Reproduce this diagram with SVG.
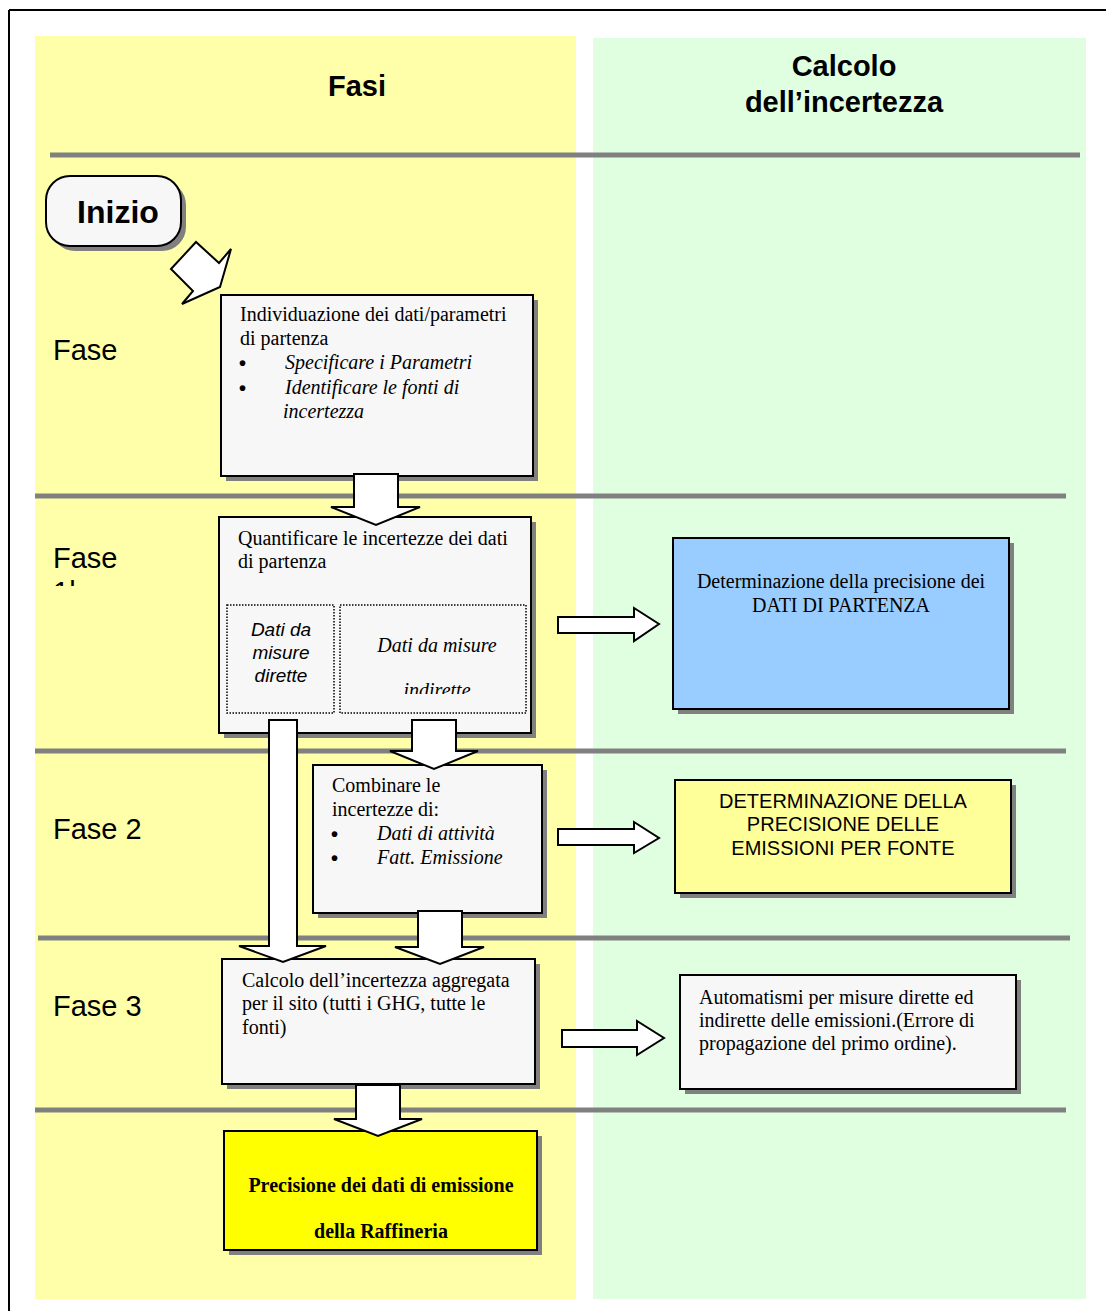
<svg xmlns="http://www.w3.org/2000/svg" width="1106" height="1311" viewBox="0 0 1106 1311">
<defs>
<style>
.box{fill:#f7f7f7;stroke:#000;stroke-width:2}
.sh{fill:#808080}
.arr{fill:#fff;stroke:#000;stroke-width:2;stroke-linejoin:miter}
.sep{stroke:#808080;stroke-width:5}
.ser{font-family:"Liberation Serif","Times New Roman",serif;font-size:20px;fill:#000}
.it{font-style:italic}
.bul{font-family:"Liberation Sans",Arial,sans-serif;font-size:20px;font-weight:bold;fill:#000}
.sans{font-family:"Liberation Sans",Arial,sans-serif;fill:#000}
.title{font-family:"Liberation Sans",Arial,sans-serif;font-weight:bold;font-size:29px;fill:#000}
.fase{font-family:"Liberation Sans",Arial,sans-serif;font-size:29px;fill:#000}
.dot{fill:none;stroke:#000;stroke-width:1.5;stroke-dasharray:1.5 1.5}
</style>
<clipPath id="clip1b"><rect x="40" y="576" width="100" height="10"/></clipPath>
<clipPath id="clipInd"><rect x="341" y="606" width="184" height="88"/></clipPath>
</defs>

<rect x="0" y="0" width="1106" height="1311" fill="#fff"/>
<path d="M9,10 H1106 M9,10 V1311" stroke="#000" stroke-width="2" fill="none"/>

<rect x="35" y="36" width="541" height="1263" fill="#ffffaa"/>
<rect x="593" y="38" width="493" height="1261" fill="#e0ffe0"/>

<g id="separators">
<line class="sep" x1="50" y1="155" x2="1080" y2="155"/>
<line class="sep" x1="35" y1="496" x2="1066" y2="496"/>
<line class="sep" x1="35" y1="751" x2="1066" y2="751"/>
<line class="sep" x1="38" y1="938" x2="1070" y2="938"/>
<line class="sep" x1="35" y1="1110" x2="1066" y2="1110"/>
</g>

<g id="headers">
<text class="title" x="357" y="96" text-anchor="middle">Fasi</text>
<text class="title" x="844" y="76" text-anchor="middle">Calcolo</text>
<text class="title" x="844" y="112" text-anchor="middle">dell’incertezza</text>
</g>

<g id="phase-labels">
<text class="fase" x="53" y="360">Fase</text>
<text class="fase" x="53" y="568">Fase</text>
<text class="fase" x="53" y="602" clip-path="url(#clip1b)">1b</text>
<text class="fase" x="53" y="839">Fase 2</text>
<text class="fase" x="53" y="1016">Fase 3</text>
</g>

<g id="inizio">
<rect class="sh" x="51" y="181" width="135" height="70" rx="24"/>
<rect class="box" x="46" y="176" width="135" height="70" rx="24"/>
<text class="sans" x="118" y="223" text-anchor="middle" font-size="32" font-weight="bold">Inizio</text>
</g>

<g id="box1">
<rect class="sh" x="226" y="300" width="312" height="181"/>
<rect class="box" x="221" y="295" width="312" height="181"/>
<text class="ser" x="240" y="321">Individuazione dei dati/parametri</text>
<text class="ser" x="240" y="345">di partenza</text>
<text class="bul" x="239" y="370">•</text>
<text class="ser it" x="285" y="369">Specificare i Parametri</text>
<text class="bul" x="239" y="395">•</text>
<text class="ser it" x="285" y="394">Identificare le fonti di</text>
<text class="ser it" x="283" y="418">incertezza</text>
</g>

<g id="box2">
<rect class="sh" x="224" y="522" width="312" height="216"/>
<rect class="box" x="219" y="517" width="312" height="216"/>
<text class="ser" x="238" y="545">Quantificare le incertezze dei dati</text>
<text class="ser" x="238" y="568">di partenza</text>
<rect class="dot" x="227" y="605" width="107" height="108"/>
<rect class="dot" x="340" y="605" width="186" height="108"/>
<text class="sans" x="281" y="636" text-anchor="middle" font-size="19" font-style="italic">Dati da</text>
<text class="sans" x="281" y="659" text-anchor="middle" font-size="19" font-style="italic">misure</text>
<text class="sans" x="281" y="682" text-anchor="middle" font-size="19" font-style="italic">dirette</text>
<text class="ser it" x="437" y="652" text-anchor="middle">Dati da misure</text>
<text class="ser it" x="437" y="697" text-anchor="middle" clip-path="url(#clipInd)">indirette</text>
</g>

<g id="box3">
<rect class="sh" x="318" y="770" width="229" height="148"/>
<rect class="box" x="313" y="765" width="229" height="148"/>
<text class="ser" x="332" y="792">Combinare le</text>
<text class="ser" x="332" y="816">incertezze di:</text>
<text class="bul" x="331" y="841">•</text>
<text class="ser it" x="377" y="840">Dati di attività</text>
<text class="bul" x="331" y="865">•</text>
<text class="ser it" x="377" y="864">Fatt. Emissione</text>
</g>

<g id="box4">
<rect class="sh" x="227" y="964" width="313" height="125"/>
<rect class="box" x="222" y="959" width="313" height="125"/>
<text class="ser" x="242" y="987">Calcolo dell’incertezza aggregata</text>
<text class="ser" x="242" y="1010">per il sito (tutti i GHG, tutte le</text>
<text class="ser" x="242" y="1034">fonti)</text>
</g>

<g id="box-final">
<rect class="sh" x="229" y="1136" width="313" height="119"/>
<rect x="224" y="1131" width="313" height="119" fill="#ffff00" stroke="#000" stroke-width="2"/>
<text class="ser" x="381" y="1192" text-anchor="middle" font-weight="bold">Precisione dei dati di emissione</text>
<text class="ser" x="381" y="1238" text-anchor="middle" font-weight="bold">della Raffineria</text>
</g>

<g id="box-blue">
<rect class="sh" x="678" y="543" width="336" height="171"/>
<rect x="673" y="538" width="336" height="171" fill="#99ccff" stroke="#000" stroke-width="2"/>
<text class="ser" x="841" y="588" text-anchor="middle">Determinazione della precisione dei</text>
<text class="ser" x="841" y="612" text-anchor="middle">DATI DI PARTENZA</text>
</g>

<g id="box-yellow">
<rect class="sh" x="680" y="785" width="336" height="113"/>
<rect x="675" y="780" width="336" height="113" fill="#ffff99" stroke="#000" stroke-width="2"/>
<text class="sans" x="843" y="808" text-anchor="middle" font-size="20">DETERMINAZIONE DELLA</text>
<text class="sans" x="843" y="831" text-anchor="middle" font-size="20">PRECISIONE DELLE</text>
<text class="sans" x="843" y="855" text-anchor="middle" font-size="20">EMISSIONI PER FONTE</text>
</g>

<g id="box-auto">
<rect class="sh" x="685" y="980" width="336" height="114"/>
<rect class="box" x="680" y="975" width="336" height="114"/>
<text class="ser" x="699" y="1004">Automatismi per misure dirette ed</text>
<text class="ser" x="699" y="1027">indirette delle emissioni.(Errore di</text>
<text class="ser" x="699" y="1050">propagazione del primo ordine).</text>
</g>

<g id="connectors">
<polygon class="arr" points="171,269 196,242 219,263 231,249 220,287 182,304 193,291"/>
<polygon class="arr" points="354,474 398,474 398,507 420,507 376,525 331,507 354,507"/>
<polygon class="arr" points="269,720 297,720 297,946 326,946 283,962 239,946 269,946"/>
<polygon class="arr" points="412,720 456,720 456,751 478,751 434,769 390,751 412,751"/>
<polygon class="arr" points="418,911 462,911 462,947 484,947 440,964 395,947 418,947"/>
<polygon class="arr" points="356,1085 400,1085 400,1119 422,1119 378,1136 334,1119 356,1119"/>
<polygon class="arr" points="558,617 634,617 634,608 659,624 634,641 634,633 558,633"/>
<polygon class="arr" points="558,829 634,829 634,822 659,838 634,853 634,845 558,845"/>
<polygon class="arr" points="562,1030 637,1030 637,1021 664,1038 637,1055 637,1047 562,1047"/>
</g>
</svg>
